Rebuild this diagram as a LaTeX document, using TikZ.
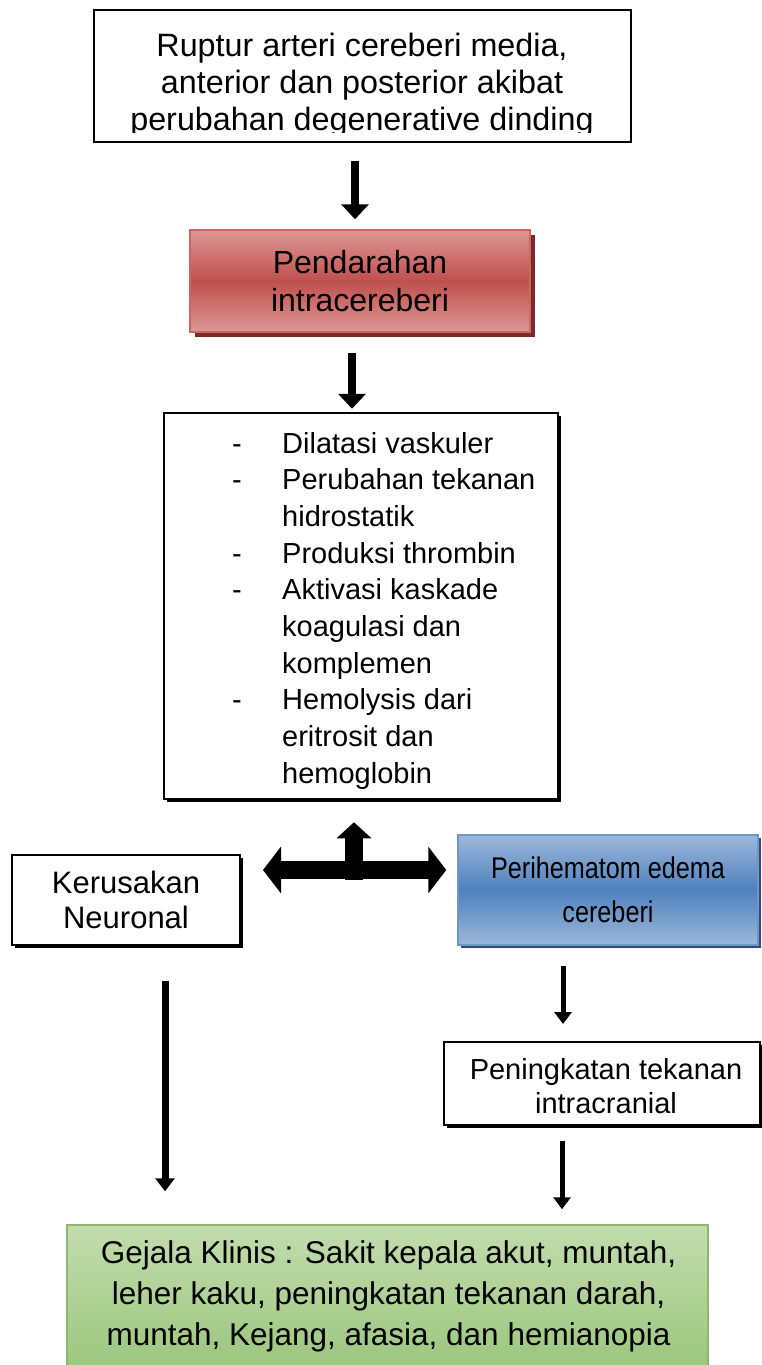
\documentclass[tikz,border=0pt]{standalone}
\usepackage{fontspec}
\setmainfont{Liberation Sans}
\newfontfamily\narrowfont{Liberation Sans}[FakeStretch=0.84]
\usetikzlibrary{arrows.meta}

\definecolor{redmid}{HTML}{C0504D}
\definecolor{redlight}{HTML}{DC9896}
\definecolor{redline}{HTML}{CD6563}
\definecolor{redshadow}{HTML}{7A2B29}
\definecolor{bluemid}{HTML}{4F81BD}
\definecolor{bluelight}{HTML}{9CB8DA}
\definecolor{blueline}{HTML}{7096C8}
\definecolor{blueshadow}{HTML}{2F4F78}
\definecolor{greentop}{HTML}{C3DCAE}
\definecolor{greenbottom}{HTML}{9BC67D}
\definecolor{greenline}{HTML}{8DB86E}

\tikzset{
  plainbox/.style={draw=black, line width=2pt, fill=white, inner sep=0pt, align=center},
  shadowed/.style={preaction={fill=#1, transform canvas={shift={(3pt,-3pt)}}}},
  redbox/.style={draw=redline, line width=1.5pt, top color=redlight, bottom color=redlight,
    middle color=redmid, inner sep=0pt, align=center,
    preaction={fill=redshadow, transform canvas={shift={(5pt,-5pt)}}}},
  bluebox/.style={draw=blueline, line width=1.5pt, top color=bluelight, bottom color=bluelight,
    middle color=bluemid, inner sep=0pt, align=center,
    preaction={fill=blueshadow, transform canvas={shift={(3pt,-3pt)}}}},
  greenbox/.style={draw=greenline, line width=1.5pt, top color=greentop, bottom color=greenbottom,
    inner sep=0pt, align=center},
  heavyarrow/.style={line width=8pt, -{Triangle[width=27pt,length=15pt]}},
  midarrow/.style={line width=7pt, -{Triangle[width=19pt,length=13pt]}},
  slimarrow/.style={line width=5pt, -{Triangle[width=17pt,length=12pt]}},
  sidearrow/.style={line width=18pt, -{Triangle[width=46pt,length=18pt]}},
  uparrow/.style={line width=18pt, -{Triangle[width=34pt,length=16pt]}},
}

\begin{document}
\begin{tikzpicture}[x=1pt,y=-1pt]
\useasboundingbox (0,0) rectangle (762,1365);

% top box: the third line is cut off by the frame
\node[plainbox, minimum width=537pt, minimum height=132pt] (b1) at (362.5,76) {};
\begin{scope}
  \clip (95,11) rectangle (630,132);
  \node[align=center, inner sep=0pt, font=\fontsize{32.3}{37}\selectfont] (b1text) at (362,85)
    {Ruptur arteri cereberi media,\\anterior dan posterior akibat\\perubahan degenerative dinding};
\end{scope}

% haemorrhage
\node[redbox, minimum width=340pt, minimum height=102pt, font=\fontsize{32}{38}\selectfont] (b2) at (360,281)
  {Pendarahan\\intracereberi};

% list of mechanisms
\node[plainbox, line width=2.5pt, shadowed=black, minimum width=394pt, minimum height=386pt] (b3) at (361,606) {};
\node[anchor=base west, inner sep=0pt, font=\fontsize{29}{36.7}\selectfont] (b3text) at (232,453)
  {\begin{tabular}[t]{@{}l@{}l@{}}
   \makebox[50pt][l]{-} & Dilatasi vaskuler\\
   \makebox[50pt][l]{-} & Perubahan tekanan\\
    & hidrostatik\\
   \makebox[50pt][l]{-} & Produksi thrombin\\
   \makebox[50pt][l]{-} & Aktivasi kaskade\\
    & koagulasi dan\\
    & komplemen\\
   \makebox[50pt][l]{-} & Hemolysis dari\\
    & eritrosit dan\\
    & hemoglobin
  \end{tabular}};

% second row
\node[plainbox, shadowed=black, minimum width=228pt, minimum height=90pt, font=\fontsize{31}{35}\selectfont] (kn) at (126,900)
  {Kerusakan\\Neuronal};
\node[bluebox, minimum width=300pt, minimum height=110pt, font=\narrowfont\fontsize{30}{44}\selectfont] (pe) at (608,890)
  {Perihematom edema\\cereberi};
\node[plainbox, shadowed=black, minimum width=316pt, minimum height=83pt] (ti) at (602,1083.5) {};
\node[align=center, inner sep=0pt, font=\fontsize{29}{34}\selectfont] (titext) at (606,1086)
  {Peningkatan tekanan\\intracranial};

% clinical signs
\node[greenbox, minimum width=641pt, minimum height=145pt] (gk) at (387.5,1297.5) {};
\node[align=center, inner sep=0pt, font=\fontsize{31.5}{41}\selectfont] (gktext) at (388.5,1296)
  {Gejala Klinis : Sakit kepala akut, muntah,\\leher kaku, peningkatan tekanan darah,\\muntah, Kejang, afasia, dan hemianopia};

% connectors
\draw[heavyarrow, shorten <=18pt, shorten >=10pt] ([xshift=-7.5pt]b1.south) -- ([xshift=-5pt]b2.north);
\draw[heavyarrow, shorten <=20pt, shorten >=3pt] ([xshift=-8pt]b2.south) -- ([xshift=-9pt]b3.north);

\coordinate (hub) at (354,870);
\draw[uparrow, shorten >=22pt] ([yshift=-10pt]hub) -- (b3.south -| hub);
\draw[sidearrow, shorten >=22pt] (hub) -- (kn.east |- hub);
\draw[sidearrow, shorten >=11pt] (hub) -- (pe.west |- hub);

\draw[slimarrow, shorten <=20pt, shorten >=17pt] (pe.south -| 563,0) -- (ti.north -| 563,0);
\draw[slimarrow, shorten <=15pt, shorten >=15pt] (ti.south -| 562,0) -- (gk.north -| 562,0);
\draw[midarrow, shorten <=35pt, shorten >=33pt] (kn.south -| 165,0) -- (gk.north -| 165,0);
\end{tikzpicture}
\end{document}
